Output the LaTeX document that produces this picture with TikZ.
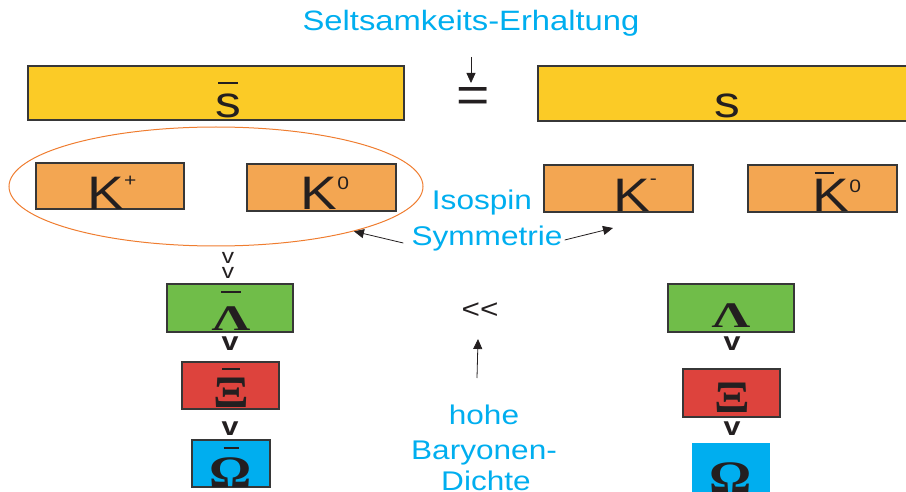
\documentclass[tikz,border=0pt]{standalone}
\usepackage{fontspec}
\usepackage{graphicx}
\setmainfont{Liberation Sans}
\newfontfamily\grk{Liberation Serif}
\usetikzlibrary{arrows.meta,shapes.geometric}

\definecolor{skyblue}{RGB}{0,174,239}
\definecolor{sunyellow}{RGB}{251,203,38}
\definecolor{kaonorange}{RGB}{243,166,82}
\definecolor{ringorange}{RGB}{239,125,48}
\definecolor{leafgreen}{RGB}{112,189,73}
\definecolor{brickred}{RGB}{221,67,61}
\definecolor{edgegray}{RGB}{55,55,55}
\definecolor{inkblack}{RGB}{35,31,32}

% horizontally widened text
\newcommand\wide[2][1.17]{\scalebox{#1}[1]{#2}}
% raised small index
\newcommand\upsc[2]{\raisebox{#1}{\fontsize{18}{18}\selectfont #2}}
% short bar above a symbol: [shift]{bar width}{height above baseline}{symbol}
\newsavebox\ovbox
\newcommand\ovbar[4][0pt]{\sbox\ovbox{#4}\rlap{\hbox to \wd\ovbox{\hss\kern#1\raisebox{#3}{\rule{#2}{2.8pt}}\hss}}\usebox\ovbox}

\tikzset{
  box/.style={draw=edgegray, line width=1.1pt, inner sep=0pt},
  quark/.style={box, fill=sunyellow},
  kaon/.style={box, fill=kaonorange},
  lam/.style={box, fill=leafgreen},
  xi/.style={box, fill=brickred},
  om/.style={box, fill=skyblue},
  sym/.style={anchor=base, inner sep=0pt, text=inkblack},
  note/.style={anchor=base, inner sep=2pt, text=skyblue, font=\fontsize{27}{27}\selectfont},
  kfont/.style={sym, font=\fontsize{47}{47}\selectfont},
  qfont/.style={sym, font=\fontsize{44}{44}\selectfont},
  gfont/.style={sym, font=\fontsize{45}{45}\selectfont\grk\bfseries},
  lfont/.style={sym, font=\fontsize{36}{36}\selectfont\grk\bfseries},
  thinv/.style={sym, font=\fontsize{21}{21}\selectfont},
  boldv/.style={sym, font=\fontsize{26}{26}\selectfont\bfseries},
  arr/.style={-{Triangle[length=10pt,width=9pt]}, line width=0.8pt, draw=inkblack},
}

\begin{document}
\begin{tikzpicture}[x=1pt, y=-1pt]
\useasboundingbox (0,0) rectangle (906,492);

% title
\node[note, font=\fontsize{28}{28}\selectfont] (title) at (471,31) {\wide{Seltsamkeits-Erhaltung}};

% strange quark bars
\node[quark, minimum width=376pt, minimum height=54pt] (sbar) at (216,93) {};
\node[quark, minimum width=370pt, minimum height=55pt] (s) at (723,93.5) {};
\node[qfont] (sbar-t) at (228,118) {\ovbar{20pt}{33.6pt}{\wide{s}}};
\node[qfont] (s-t) at (727,118) {\wide{s}};

% conservation sign with arrow
\node[sym, font=\fontsize{51}{51}\selectfont] (eq) at (473,113) {\wide[1.12]{=}};
\coordinate (eqtail) at (471,57);
\coordinate (eqtip) at (471,83);
\draw[arr] (eqtail) -- (eqtip);

% kaons
\node[kaon, minimum width=148pt, minimum height=46pt] (kp) at (110,186) {};
\node[kaon, minimum width=149pt, minimum height=47pt] (k0) at (321.5,187.5) {};
\node[kaon, minimum width=149pt, minimum height=47pt] (km) at (618.5,188.5) {};
\node[kaon, minimum width=149pt, minimum height=47pt] (k0bar) at (822.5,188.5) {};
\node[kfont] (kp-t) at (112,210) {\wide{K\upsc{23.7pt}{+}}};
\node[kfont] (k0-t) at (325,210) {\wide{K\upsc{20pt}{0}}};
\node[kfont] (km-t) at (635,212) {\wide{K\upsc{28pt}{-}}};
\node[kfont] (k0bar-t) at (837,212) {\ovbar[-14pt]{19pt}{37.6pt}{\wide{K}}\wide{\upsc{20pt}{0}}};

% isospin doublet
\node[draw=ringorange, line width=1pt, ellipse, minimum width=414pt, minimum height=119pt, inner sep=0pt] (iso) at (216,186.5) {};
\node[note] (isospin) at (482,210) {\wide{Isospin}};
\node[note] (symm) at (487,245) {\wide{Symmetrie}};
\coordinate (kmtip) at (613,228);
\draw[arr] ([xshift=-6pt,yshift=-5pt]symm.west) -- (iso.-18);
\draw[arr] ([yshift=-2pt]symm.east) -- (kmtip);

% antibaryon column
\node[thinv] (v1) at (228,263) {\wide{v}};
\node[thinv] (v2) at (228,278) {\wide{v}};
\node[lam, minimum width=126pt, minimum height=48pt] (lbar) at (230,308) {};
\node[xi, minimum width=97pt, minimum height=47pt] (xbar) at (230.5,385.5) {};
\node[om, minimum width=78pt, minimum height=47pt] (obar) at (231,463.5) {};
\node[lfont] (lbar-t) at (231,330) {\ovbar{20pt}{36.6pt}{\wide[1.5]{Λ}}};
\node[gfont] (xbar-t) at (231,407) {\ovbar{18pt}{36.6pt}{\wide{Ξ}}};
\node[gfont] (obar-t) at (231,487) {\ovbar{15pt}{37.6pt}{\wide{Ω}}};
\node[boldv] (v3) at (230,350) {\wide{v}};
\node[boldv] (v4) at (230,435) {\wide{v}};

% baryon column
\node[lam, minimum width=126pt, minimum height=48pt] (lam) at (731,308) {};
\node[xi, minimum width=97pt, minimum height=48pt] (xi) at (731.5,393) {};
\node[om, draw=none, minimum width=78pt, minimum height=52pt] (om) at (731,469) {};
\node[lfont] (lam-t) at (731,327) {\wide[1.5]{Λ}};
\node[gfont] (xi-t) at (732,412) {\wide{Ξ}};
\node[gfont] (om-t) at (731,492) {\wide{Ω}};
\node[boldv] (v5) at (732,350) {\wide{v}};
\node[boldv] (v6) at (732,435) {\wide{v}};

% density comparison
\node[sym, font=\fontsize{27}{27}\selectfont] (ll) at (480,318) {\wide{<{}<}};
\node[note] (hohe) at (484,424) {\wide{hohe}};
\node[note] (bary) at (484,459) {\wide{Baryonen-}};
\node[note] (dichte) at (486,490) {\wide{Dichte}};
\coordinate (lltail) at (477,378);
\coordinate (lltip) at (478,339);
\draw[arr] (lltail) -- (lltip);
\end{tikzpicture}
\end{document}
